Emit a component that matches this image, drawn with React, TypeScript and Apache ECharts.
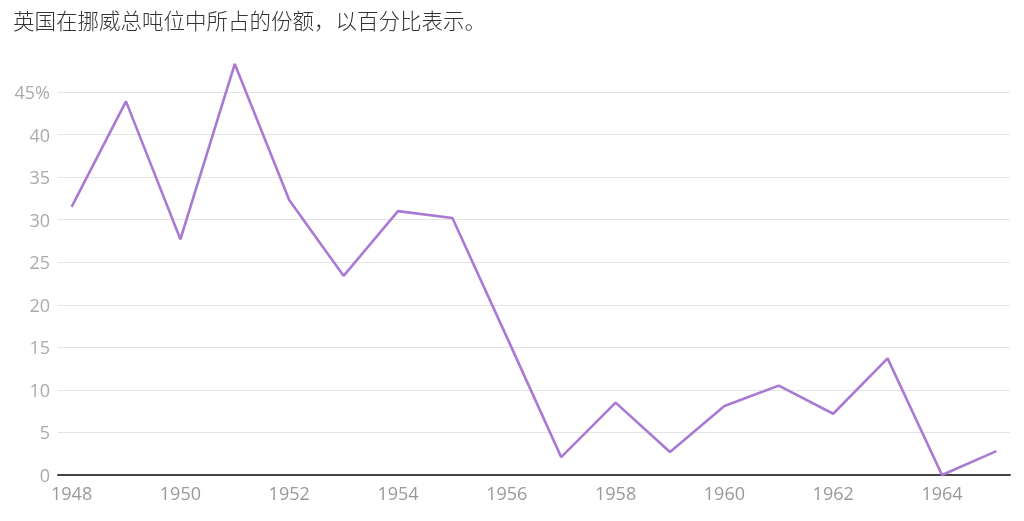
import * as echarts from "echarts";
import { useEffect, useRef } from "react";

const years = [
  1948, 1949, 1950, 1951, 1952, 1953, 1954, 1955, 1956, 1957, 1958, 1959,
  1960, 1961, 1962, 1963, 1964, 1965,
];
const ukShare = [
  31.5, 43.9, 27.7, 48.3, 32.3, 23.4, 31.0, 30.2, 16.2, 2.1, 8.5, 2.7, 8.1,
  10.5, 7.2, 13.7, 0, 2.8,
];
const title = "英国在挪威总吨位中所占的份额，以百分比表示。";

export default function App() {
  const chartRef = useRef<HTMLDivElement>(null);

  useEffect(() => {
    if (!chartRef.current) return;
    const chart = echarts.init(chartRef.current, undefined, { renderer: "svg" });

    const labelFont = '"Open Sans", "Noto Sans", sans-serif';

    chart.setOption({
      animation: false,
      title: {
        text: title,
        left: 8,
        top: 4,
        textStyle: {
          fontFamily: '"Noto Sans CJK SC", sans-serif',
          fontSize: 21.5,
          fontWeight: 300,
          color: "#333",
        },
      },
      grid: { left: 58, right: 14, top: 92, bottom: 46, containLabel: false },
      xAxis: {
        type: "value",
        min: 1947.75,
        max: 1965.25,
        interval: 0.25,
        axisLine: { show: true, lineStyle: { color: "#444", width: 2 } },
        axisTick: { show: false },
        splitLine: { show: false },
        axisLabel: {
          margin: 9,
          color: "#999",
          fontFamily: labelFont,
          fontSize: 18,
          formatter: (v: number) =>
            Number.isInteger(v) && v % 2 === 0 ? String(v) : "",
        },
      },
      yAxis: {
        type: "value",
        min: 0,
        max: 45,
        interval: 5,
        axisLine: { show: false },
        axisTick: { show: false },
        splitLine: { lineStyle: { color: "#e4e4e4", width: 1 } },
        axisLabel: {
          margin: 8,
          color: "#aaa",
          fontFamily: labelFont,
          fontSize: 18,
          formatter: (v: number) => (v === 45 ? "45%" : String(v)),
        },
      },
      series: [
        {
          type: "line",
          data: years.map((y, i) => [y, ukShare[i]]),
          showSymbol: false,
          clip: false,
          z: 1,
          lineStyle: { color: "#a97ad3", width: 2.6 },
        },
      ],
    });

    return () => chart.dispose();
  }, []);

  return (
    <div
      ref={chartRef}
      style={{ position: "fixed", left: 0, top: 0, width: 1024, height: 521 }}
    />
  );
}
